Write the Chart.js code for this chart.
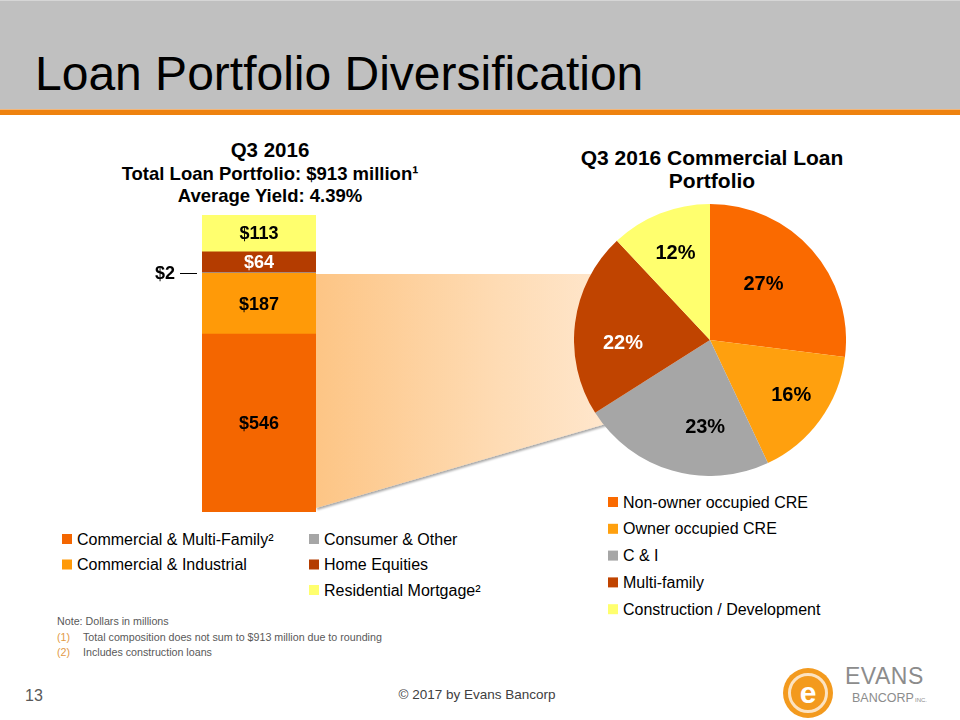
<!DOCTYPE html>
<html><head><meta charset="utf-8">
<script src="https://cdn.jsdelivr.net/npm/chart.js@4.4.1/dist/chart.umd.min.js"></script>
<style>
html,body{margin:0;padding:0}
body{width:960px;height:720px;position:relative;background:#fff;overflow:hidden;font-family:"Liberation Sans",Arial,sans-serif}
#bg{position:absolute;left:0;top:0;z-index:0}
canvas{position:absolute;z-index:1}
#barCanvas{left:120px;top:205px}
#pieCanvas{left:574px;top:204px}
</style></head><body>
<svg id="bg" width="960" height="720" xmlns="http://www.w3.org/2000/svg">
  <defs>
    <linearGradient id="fan" x1="0" y1="0" x2="1" y2="0">
      <stop offset="0" stop-color="#FDC585"/>
      <stop offset="0.55" stop-color="#FEDBB3"/>
      <stop offset="1" stop-color="#FFEAD4"/>
    </linearGradient>
    <filter id="sh" x="-5%" y="-5%" width="115%" height="120%">
      <feDropShadow dx="1" dy="2" stdDeviation="1.2" flood-color="#000" flood-opacity="0.35"/>
    </filter>
  </defs>
  <rect x="0" y="0" width="960" height="109" fill="#C0C0C0"/>
  <rect x="0" y="0" width="960" height="1" fill="#D6D6D6"/>
  <rect x="0" y="109" width="960" height="1" fill="#F3B679"/>
  <rect x="0" y="110" width="960" height="5" fill="#EE820F"/>
  <text x="35" y="90" font-size="48" fill="#000">Loan Portfolio Diversification</text>

  <polygon points="316,274 640,274 640,414 316,508" fill="url(#fan)" filter="url(#sh)"/>

  <g font-weight="bold" fill="#000" text-anchor="middle">
    <text x="270" y="157" font-size="20.5">Q3 2016</text>
    <text x="270" y="180" font-size="18.5">Total Loan Portfolio: $913 million¹</text>
    <text x="270" y="202" font-size="18.5">Average Yield: 4.39%</text>
    <text x="712" y="165" font-size="21">Q3 2016 Commercial Loan</text>
    <text x="712" y="188" font-size="21">Portfolio</text>
  </g>

  <g id="barLegend"></g>
  <g id="pieLegend"></g>

  <g font-size="10.7" fill="#595959">
    <text x="57" y="625">Note: Dollars in millions</text>
    <text x="57" y="641" fill="#E29A45">(1)</text>
    <text x="83" y="641">Total composition does not sum to $913 million due to rounding</text>
    <text x="57" y="656" fill="#E29A45">(2)</text>
    <text x="83" y="656">Includes construction loans</text>
  </g>

  <text x="25" y="701" font-size="16" fill="#595959">13</text>
  <text x="477" y="699" font-size="13.5" fill="#404040" text-anchor="middle">© 2017 by Evans Bancorp</text>

  <g>
    <circle cx="808" cy="693" r="25" fill="#F39A1E"/>
    <circle cx="808" cy="693" r="18.5" fill="none" stroke="#FCE3C2" stroke-width="3"/>
    <text x="808" y="703" font-size="30" font-weight="bold" fill="#fff" text-anchor="middle">e</text>
    <text x="845" y="684" font-size="23" fill="#8C8C8C" font-family="'Liberation Sans Narrow','Liberation Sans',Arial,sans-serif" letter-spacing="0.5">EVANS</text>
    <text x="852" y="702" font-size="12.5" fill="#8C8C8C" font-family="'Liberation Sans Narrow','Liberation Sans',Arial,sans-serif">BANCORP</text>
    <text x="915" y="702" font-size="6" fill="#8C8C8C">INC.</text>
  </g>
</svg>
<canvas id="barCanvas" width="220" height="320"></canvas>
<canvas id="pieCanvas" width="272" height="272"></canvas>
<script>
// ---- Data ----
const barPeriod = ['Q3 2016'];
const barCategories = ['Commercial & Multi-Family²', 'Commercial & Industrial', 'Consumer & Other', 'Home Equities', 'Residential Mortgage²'];
const barValues = [546, 187, 2, 64, 113];
const barColors = ['#F46600', '#FF9A08', '#A6A6A6', '#B43C00', '#FFFF6E'];
const barLabelColors = ['#000000', '#000000', '#000000', '#FFFFFF', '#000000'];

const pieCategories = ['Non-owner occupied CRE', 'Owner occupied CRE', 'C & I', 'Multi-family', 'Construction / Development'];
const pieValues = [27, 16, 23, 22, 12];
const pieColors = ['#FA6A00', '#FFA00E', '#A6A6A6', '#C04400', '#FFFF6E'];
const pieLabelColors = ['#000000', '#000000', '#000000', '#FFFFFF', '#000000'];

const FONT = '"Liberation Sans", Arial, sans-serif';
const SVGNS = 'http://www.w3.org/2000/svg';

// label placement style (angle shift in degrees, radius fraction) per slice
const pieLabelPlacement = [[-5, 0.57], [-2, 0.72], [-13, 0.64], [-9, 0.64], [0, 0.69]];

// ---- Legends (built from the data arrays) ----
function legendItem(g, x, cy, color, text) {
  const r = document.createElementNS(SVGNS, 'rect');
  r.setAttribute('x', x); r.setAttribute('y', cy - 5);
  r.setAttribute('width', 10); r.setAttribute('height', 10);
  r.setAttribute('fill', color);
  g.appendChild(r);
  const t = document.createElementNS(SVGNS, 'text');
  t.setAttribute('x', x + 15); t.setAttribute('y', cy + 5.5);
  t.setAttribute('font-size', '16'); t.setAttribute('fill', '#000');
  t.textContent = text;
  g.appendChild(t);
}
const bl = document.getElementById('barLegend');
barCategories.forEach((c, i) => {
  const col = i < 2 ? 0 : 1;
  const row = i < 2 ? i : i - 2;
  legendItem(bl, col ? 309 : 62, 539 + row * 25.5, barColors[i], c);
});
const pl = document.getElementById('pieLegend');
pieCategories.forEach((c, i) => legendItem(pl, 608, 502 + i * 26.8, pieColors[i], c));

// ---- Stacked bar ----
const barTotal = barValues.reduce((a, b) => a + b, 0);
const barLabelPlugin = {
  id: 'barLabels',
  afterDatasetsDraw(chart) {
    const ctx = chart.ctx, area = chart.chartArea;
    ctx.save();
    ctx.font = 'bold 18px ' + FONT;
    ctx.textBaseline = 'middle';
    chart.data.datasets.forEach((ds, i) => {
      const el = chart.getDatasetMeta(i).data[0];
      const v = ds.data[0];
      const cy = (el.y + el.base) / 2;
      if (v >= 20) {
        ctx.textAlign = 'center';
        ctx.fillStyle = barLabelColors[i];
        ctx.fillText('$' + v, el.x, cy + 1);
      } else {
        ctx.textAlign = 'right';
        ctx.fillStyle = '#000';
        ctx.fillText('$' + v, area.left - 27, cy + 1);
        ctx.strokeStyle = '#000'; ctx.lineWidth = 1;
        ctx.beginPath();
        ctx.moveTo(area.left - 22, Math.round(cy) + 0.5);
        ctx.lineTo(area.left - 5, Math.round(cy) + 0.5);
        ctx.stroke();
      }
    });
    ctx.restore();
  }
};
new Chart(document.getElementById('barCanvas'), {
  type: 'bar',
  data: {
    labels: barPeriod,
    datasets: barCategories.map((c, i) => ({
      label: c, data: [barValues[i]], backgroundColor: barColors[i],
      borderWidth: 0, barPercentage: 1, categoryPercentage: 1
    }))
  },
  options: {
    responsive: false, animation: false,
    layout: { padding: { left: 82, right: 24, top: 10, bottom: 13 } },
    scales: {
      x: { display: false, stacked: true },
      y: { display: false, stacked: true, min: 0, max: barTotal }
    },
    plugins: { legend: { display: false }, tooltip: { enabled: false } }
  },
  plugins: [barLabelPlugin]
});

// ---- Pie ----
const pieLabelPlugin = {
  id: 'pieLabels',
  afterDatasetsDraw(chart) {
    const ctx = chart.ctx;
    ctx.save();
    ctx.font = 'bold 20px ' + FONT;
    ctx.textAlign = 'center'; ctx.textBaseline = 'middle';
    chart.getDatasetMeta(0).data.forEach((arc, i) => {
      const p = arc.getProps(['x', 'y', 'startAngle', 'endAngle', 'outerRadius'], true);
      const [shift, frac] = pieLabelPlacement[i];
      const mid = (p.startAngle + p.endAngle) / 2 + shift * Math.PI / 180;
      const r = p.outerRadius * frac;
      ctx.fillStyle = pieLabelColors[i];
      ctx.fillText(chart.data.datasets[0].data[i] + '%', p.x + Math.cos(mid) * r, p.y + Math.sin(mid) * r + 1);
    });
    ctx.restore();
  }
};
new Chart(document.getElementById('pieCanvas'), {
  type: 'pie',
  data: {
    labels: pieCategories,
    datasets: [{ data: pieValues, backgroundColor: pieColors, borderWidth: 0 }]
  },
  options: {
    responsive: false, animation: false,
    layout: { padding: 0 },
    plugins: { legend: { display: false }, tooltip: { enabled: false } }
  },
  plugins: [pieLabelPlugin]
});
</script>
</body></html>
